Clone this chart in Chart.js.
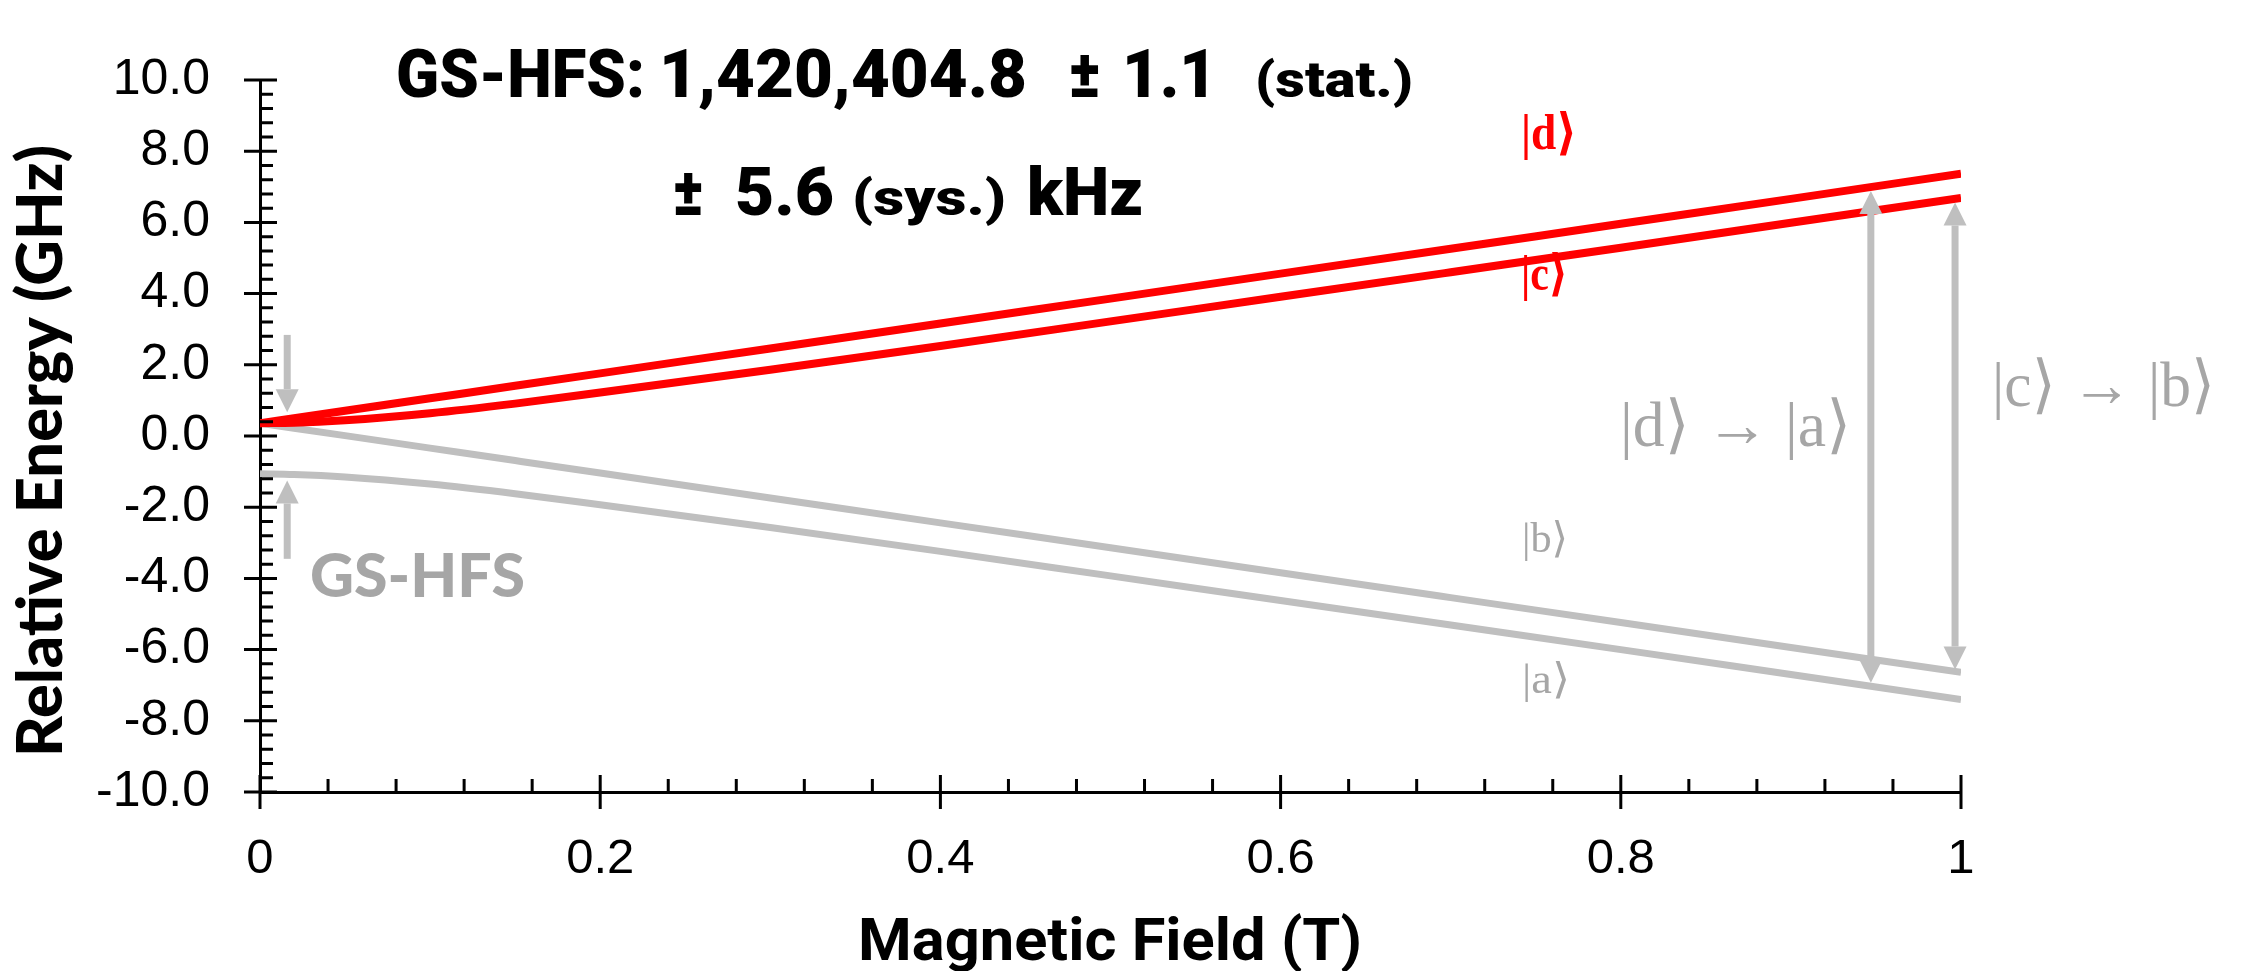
<!DOCTYPE html>
<html>
<head>
<meta charset="utf-8">
<script src="https://cdn.jsdelivr.net/npm/chart.js@4.4.0/dist/chart.umd.min.js"></script>
<style>
  html, body { margin: 0; padding: 0; background: #fff; }
  #wrap { width: 2243px; height: 971px; }
</style>
</head>
<body>
<div id="wrap"><canvas id="hfsChart" width="2243" height="971"></canvas></div>
<script>
"use strict";

// ---- data ----

// magnetic field samples (T)
const magneticField = [0, 0.02, 0.05, 0.1, 0.15, 0.2, 0.3, 0.4, 0.5, 0.6, 0.7, 0.8, 0.9, 1.0];

// relative energy of each hyperfine state (GHz)
const stateD = [0.36, 0.50, 0.71, 1.06, 1.41, 1.76, 2.46, 3.16, 3.86, 4.56, 5.26, 5.96, 6.66, 7.37];
const stateC = [0.36, 0.37, 0.44, 0.64, 0.91, 1.22, 1.86, 2.53, 3.22, 3.91, 4.60, 5.29, 5.99, 6.69];
const stateB = [0.36, 0.22, 0.01, -0.34, -0.69, -1.04, -1.74, -2.44, -3.14, -3.84, -4.54, -5.24, -5.94, -6.64];
const stateA = [-1.06, -1.08, -1.15, -1.35, -1.62, -1.93, -2.57, -3.24, -3.93, -4.62, -5.31, -6.00, -6.70, -7.40];

// tick labels
const xTickValues = [0, 0.2, 0.4, 0.6, 0.8, 1];
const xTickLabels = ['0', '0.2', '0.4', '0.6', '0.8', '1'];
const yTickValues = [-10, -8, -6, -4, -2, 0, 2, 4, 6, 8, 10];

// grey arrows: field, start energy, tip energy, head at both ends?
const arrowField = [0.016, 0.016, 0.947, 0.9965];
const arrowFrom = [2.84, -3.45, -6.93, -6.56];
const arrowTo = [0.67, -1.25, 6.88, 6.56];
const arrowDouble = [false, false, true, true];

// ---- colours ----
const RED = '#ff0000';
const LINE_GREY = '#bfbfbf';
const TEXT_GREY = '#a6a6a6';

// draw text squeezed/stretched to a given width
function fitText(ctx, text, x, y, width, font, color, align) {
  ctx.save();
  ctx.font = font;
  ctx.fillStyle = color;
  ctx.textAlign = 'left';
  ctx.textBaseline = 'alphabetic';
  const w = ctx.measureText(text).width;
  const sx = width / w;
  ctx.translate(align === 'center' ? x - width / 2 : x, y);
  ctx.scale(sx, 1);
  ctx.fillText(text, 0, 0);
  ctx.restore();
}

function drawArrow(ctx, x, yFrom, yTo, both) {
  const headLen = 23, headHalf = 11.5;
  const dir = yTo > yFrom ? 1 : -1;
  ctx.lineWidth = 7;
  ctx.beginPath();
  ctx.moveTo(x, both ? yFrom + dir * headLen : yFrom);
  ctx.lineTo(x, yTo - dir * headLen);
  ctx.stroke();

  ctx.beginPath();
  ctx.moveTo(x, yTo);
  ctx.lineTo(x - headHalf, yTo - dir * headLen);
  ctx.lineTo(x + headHalf, yTo - dir * headLen);
  ctx.closePath();
  ctx.fill();

  if (both) {
    ctx.beginPath();
    ctx.moveTo(x, yFrom);
    ctx.lineTo(x - headHalf, yFrom + dir * headLen);
    ctx.lineTo(x + headHalf, yFrom + dir * headLen);
    ctx.closePath();
    ctx.fill();
  }
}

const decorPlugin = {
  id: 'decor',
  afterDatasetsDraw(chart) {
    const ctx = chart.ctx;
    const xs = chart.scales.x, ys = chart.scales.y;
    ctx.save();
    ctx.strokeStyle = LINE_GREY;
    ctx.fillStyle = LINE_GREY;
    ctx.lineCap = 'butt';
    for (let i = 0; i < arrowField.length; i++) {
      drawArrow(ctx,
        xs.getPixelForValue(arrowField[i]),
        ys.getPixelForValue(arrowFrom[i]),
        ys.getPixelForValue(arrowTo[i]),
        arrowDouble[i]);
    }
    ctx.restore();
  },
  afterDraw(chart) {
    const ctx = chart.ctx;
    const xs = chart.scales.x, ys = chart.scales.y;
    const left = chart.chartArea.left, bottom = chart.chartArea.bottom;

    // tick marks: major ones cross the axis, minor ones point inwards
    ctx.save();
    ctx.strokeStyle = '#000';
    ctx.lineWidth = 3;
    ctx.beginPath();
    for (let k = 0; k <= 50; k++) {
      const py = ys.getPixelForValue(-10 + k * 0.4);
      const major = k % 5 === 0;
      ctx.moveTo(major ? left - 16 : left, py);
      ctx.lineTo(left + (major ? 17 : 13), py);
    }
    for (let k = 0; k <= 25; k++) {
      const px = xs.getPixelForValue(k * 0.04);
      const major = k % 5 === 0;
      ctx.moveTo(px, bottom - (major ? 17 : 13));
      ctx.lineTo(px, major ? bottom + 17 : bottom);
    }
    ctx.stroke();
    ctx.restore();

    // axis titles
    ctx.save();
    ctx.translate(62, 451);
    ctx.rotate(-Math.PI / 2);
    fitText(ctx, 'Relative Energy (GHz)', 0, 0, 612, '900 62px Lato', '#000', 'center');
    ctx.restore();
    fitText(ctx, 'Magnetic Field (T)', 1110, 960, 504, 'bold 60px Roboto', '#000', 'center');

    // result text
    const big = '900 66px Roboto';
    const small = '900 50px Roboto';
    fitText(ctx, 'GS-HFS:', 396, 97, 249, big, '#000');
    fitText(ctx, '1,420,404.8', 659, 97, 368, big, '#000');
    fitText(ctx, '±', 1069, 97, 32, big, '#000');
    fitText(ctx, '1.1', 1122, 97, 95, big, '#000');
    fitText(ctx, '(stat.)', 1255, 97, 158, small, '#000');
    fitText(ctx, '±', 673, 215, 31, big, '#000');
    fitText(ctx, '5.6', 735, 215, 99, big, '#000');
    fitText(ctx, '(sys.)', 852, 215, 154, small, '#000');
    fitText(ctx, 'kHz', 1027, 215, 116, big, '#000');

    fitText(ctx, 'GS-HFS', 310, 597, 215, '900 61px Lato', TEXT_GREY);

    // state labels
    const serif = '"Liberation Serif", "DejaVu Serif", serif';
    fitText(ctx, '|d⟩', 1521, 149, 56, 'bold 50px ' + serif, RED);
    fitText(ctx, '|c⟩', 1521, 290, 47, 'bold 50px ' + serif, RED);
    fitText(ctx, '|b⟩', 1522, 552, 46, '42px ' + serif, TEXT_GREY);
    fitText(ctx, '|a⟩', 1522, 693, 48, '42px ' + serif, TEXT_GREY);
    fitText(ctx, '|d⟩ → |a⟩', 1620, 446, 231, '64px ' + serif, TEXT_GREY);
    fitText(ctx, '|c⟩ → |b⟩', 1992, 406, 223, '64px ' + serif, TEXT_GREY);
  }
};

function series(values) {
  return magneticField.map((b, i) => ({ x: b, y: values[i] }));
}

const ctx = document.getElementById('hfsChart');

const hfsChart = new Chart(ctx, {
  type: 'line',
  data: {
    datasets: [
      { label: '|d⟩', data: series(stateD), borderColor: RED, borderWidth: 8 },
      { label: '|c⟩', data: series(stateC), borderColor: RED, borderWidth: 8 },
      { label: '|b⟩', data: series(stateB), borderColor: LINE_GREY, borderWidth: 7 },
      { label: '|a⟩', data: series(stateA), borderColor: LINE_GREY, borderWidth: 7 }
    ]
  },
  options: {
    responsive: false,
    animation: false,
    devicePixelRatio: 1,
    layout: { padding: { left: 0, top: 29, right: 282, bottom: 0 } },
    elements: {
      point: { radius: 0 },
      line: { cubicInterpolationMode: 'monotone', borderCapStyle: 'butt', fill: false }
    },
    plugins: {
      legend: { display: false },
      tooltip: { enabled: false }
    },
    scales: {
      x: {
        type: 'linear',
        min: 0,
        max: 1,
        afterFit: s => { s.height = 179; },
        afterBuildTicks: s => { s.ticks = xTickValues.map(v => ({ value: v })); },
        ticks: {
          callback: (v, i) => xTickLabels[i],
          font: { family: 'Liberation Sans', size: 49 },
          color: '#000',
          padding: 38,
          maxRotation: 0,
          autoSkip: false
        },
        grid: { display: false, drawTicks: false },
        border: { display: true, color: '#000', width: 3 }
      },
      y: {
        type: 'linear',
        min: -10,
        max: 10,
        afterFit: s => { s.width = 260; },
        afterBuildTicks: s => { s.ticks = yTickValues.map(v => ({ value: v })); },
        ticks: {
          callback: v => v.toFixed(1),
          font: { family: 'Liberation Sans', size: 50 },
          color: '#000',
          padding: 50,
          autoSkip: false
        },
        grid: { display: false, drawTicks: false },
        border: { display: true, color: '#000', width: 3 }
      }
    }
  },
  plugins: [decorPlugin]
});
</script>
</body>
</html>
